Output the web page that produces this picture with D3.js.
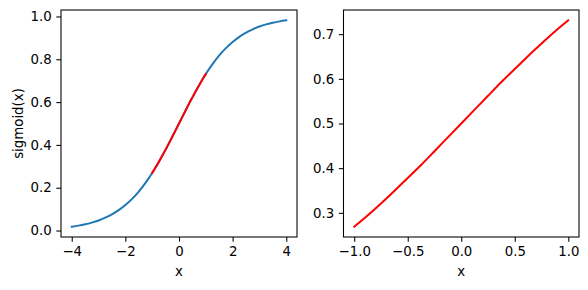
<!DOCTYPE html>
<html>
<head>
<meta charset="utf-8">
<script src="https://cdn.jsdelivr.net/npm/d3@7"></script>
<style>
  body { margin: 0; background: #fff; }
  text { font-family: "DejaVu Sans", sans-serif; fill: #000; }
</style>
</head>
<body>
<script>
// sigmoid curve, x in steps of 0.25
var xsFull = [-4, -3.75, -3.5, -3.25, -3, -2.75, -2.5, -2.25, -2, -1.75, -1.5, -1.25, -1, -0.75, -0.5, -0.25,
              0, 0.25, 0.5, 0.75, 1, 1.25, 1.5, 1.75, 2, 2.25, 2.5, 2.75, 3, 3.25, 3.5, 3.75, 4];
var ysFull = [0.018, 0.023, 0.029, 0.037, 0.047, 0.060, 0.076, 0.095, 0.119, 0.148, 0.182, 0.223, 0.269, 0.321, 0.378, 0.438,
              0.500, 0.562, 0.622, 0.679, 0.731, 0.777, 0.818, 0.852, 0.881, 0.905, 0.924, 0.940, 0.953, 0.963, 0.971, 0.977, 0.982];
// red segment
var xsZoom = [-1, -0.875, -0.75, -0.625, -0.5, -0.375, -0.25, -0.125, 0, 0.125, 0.25, 0.375, 0.5, 0.625, 0.75, 0.875, 1];
var ysZoom = [0.269, 0.294, 0.321, 0.349, 0.378, 0.407, 0.438, 0.469, 0.500, 0.531, 0.562, 0.593, 0.622, 0.651, 0.679, 0.706, 0.731];

var leftXTicks = [-4, -2, 0, 2, 4];
var leftYTicks = [0.0, 0.2, 0.4, 0.6, 0.8, 1.0];
var rightXTicks = [-1.0, -0.5, 0.0, 0.5, 1.0];
var rightYTicks = [0.3, 0.4, 0.5, 0.6, 0.7];

var W = 588, H = 290,
    plotTop = 10, plotBottom = 237,
    fontSize = 13.33, tickLen = 4.67, pad = 4.67;

var svg = d3.select("body").append("svg")
    .attr("width", W).attr("height", H);

var full = xsFull.map(function(x, i){ return [x, ysFull[i]]; });
var zoom = xsZoom.map(function(x, i){ return [x, ysZoom[i]]; });

function fmt(d, n) { return d.toFixed(n).replace("-", "\u2212"); }

function panel(left, right, xDom, yDom, xTicks, yTicks, xDec, yDec) {
  var x = d3.scaleLinear().domain(xDom).range([left, right]);
  var y = d3.scaleLinear().domain(yDom).range([plotBottom, plotTop]);
  var g = svg.append("g");

  var xa = g.append("g").attr("transform", "translate(0," + plotBottom + ")")
      .call(d3.axisBottom(x).tickValues(xTicks).tickSize(tickLen).tickPadding(pad)
        .tickFormat(function(d){ return fmt(d, xDec); }));
  var ya = g.append("g").attr("transform", "translate(" + left + ",0)")
      .call(d3.axisLeft(y).tickValues(yTicks).tickSize(tickLen).tickPadding(pad)
        .tickFormat(function(d){ return fmt(d, yDec); }));
  [xa, ya].forEach(function(a){
    a.select(".domain").remove();
    a.selectAll("line").attr("stroke", "#000").attr("stroke-width", 1.07);
    a.selectAll("text").style("font-size", fontSize + "px")
      .style("font-family", "DejaVu Sans, sans-serif").attr("fill", "#000");
  });

  g.append("rect")
    .attr("x", left).attr("y", plotTop)
    .attr("width", right - left).attr("height", plotBottom - plotTop)
    .attr("fill", "none").attr("stroke", "#000").attr("stroke-width", 1.07);

  g.append("text")
    .attr("x", (left + right) / 2).attr("y", plotBottom + 39)
    .attr("text-anchor", "middle")
    .style("font-size", fontSize + "px")
    .text("x");
  return {x: x, y: y, g: g};
}

var p1 = panel(61, 297, [-4.4, 4.4], [-0.0302, 1.0302], leftXTicks, leftYTicks, 0, 1);
var p2 = panel(343.5, 579, [-1.1, 1.1], [0.2459, 0.7541], rightXTicks, rightYTicks, 1, 1);

function drawLine(p, pts, color) {
  var line = d3.line()
      .x(function(d){ return p.x(d[0]); })
      .y(function(d){ return p.y(d[1]); })
      .curve(d3.curveNatural);
  p.g.append("path")
    .attr("d", line(pts))
    .attr("fill", "none")
    .attr("stroke", color)
    .attr("stroke-width", 2)
    .attr("stroke-linecap", "square");
}

drawLine(p1, full, "#1f77b4");
drawLine(p1, zoom, "#ff0000");
drawLine(p2, zoom, "#ff0000");

svg.append("text")
  .attr("transform", "translate(23," + ((plotTop + plotBottom) / 2) + ") rotate(-90)")
  .attr("text-anchor", "middle")
  .style("font-size", fontSize + "px")
  .text("sigmoid(x)");
</script>
</body>
</html>
